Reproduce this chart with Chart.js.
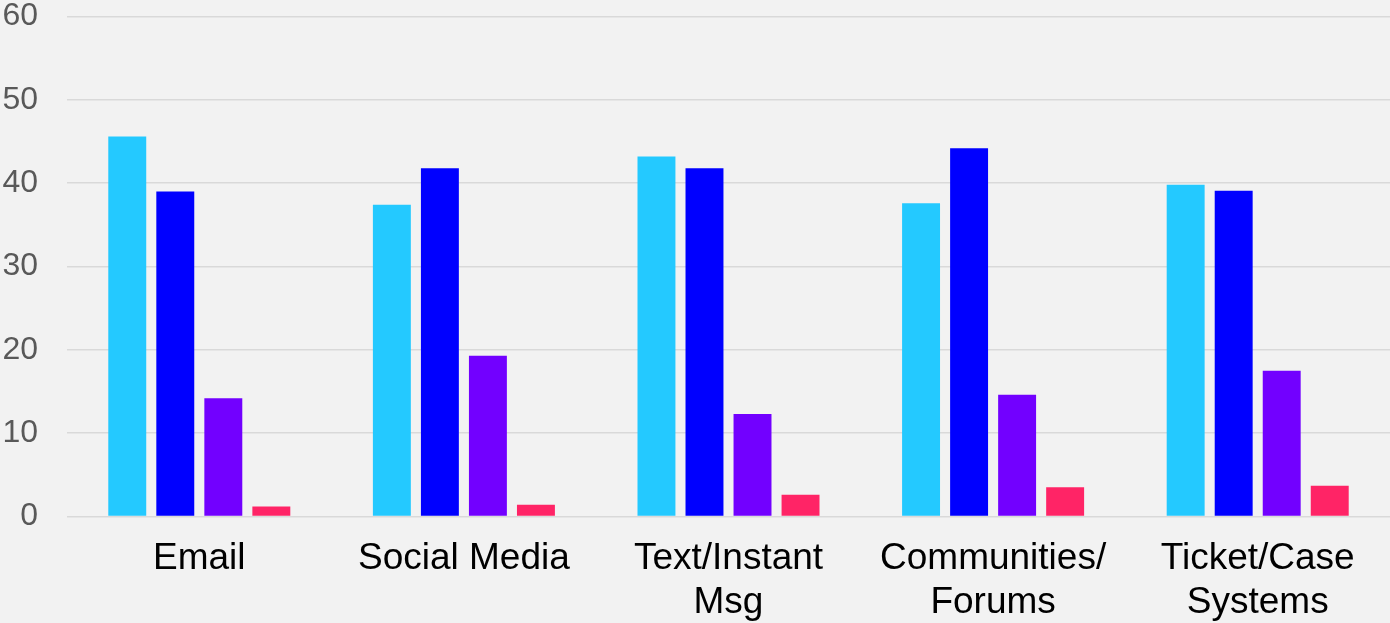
<!DOCTYPE html>
<html>
<head>
<meta charset="UTF-8">
<title>Channels</title>
<style>
  html, body { margin: 0; padding: 0; background: #f2f2f2; }
  #wrap { width: 1390px; height: 623px; }
</style>
</head>
<body>
<div id="wrap"><canvas id="chart" width="1390" height="623"></canvas></div>
<script src="https://cdn.jsdelivr.net/npm/chart.js"></script>
<script>
// categories (multi-line labels as arrays)
const categories = [
  'Email',
  'Social Media',
  ['Text/Instant', 'Msg'],
  ['Communities/', 'Forums'],
  ['Ticket/Case', 'Systems']
];

// series values
const series1 = [45.6, 37.4, 43.2, 37.6, 39.8];
const series2 = [39.0, 41.8, 41.8, 44.2, 39.1];
const series3 = [14.2, 19.3, 12.3, 14.6, 17.5];
const series4 = [1.2, 1.4, 2.6, 3.5, 3.7];

const yTicks = [0, 10, 20, 30, 40, 50, 60];

const colors = ['#24c9ff', '#0000ff', '#7200ff', '#ff2466'];

const bg = {
  id: 'bg',
  beforeDraw(chart) {
    const c = chart.ctx;
    c.save();
    c.fillStyle = '#f2f2f2';
    c.fillRect(0, 0, chart.width, chart.height);
    c.restore();
  }
};

const mk = (label, data, i) => ({
  label,
  data,
  backgroundColor: colors[i],
  borderWidth: 0,
  categoryPercentage: 0.726,
  barPercentage: 0.79
});

new Chart(document.getElementById('chart'), {
  type: 'bar',
  data: {
    labels: categories,
    datasets: [
      mk('Series 1', series1, 0),
      mk('Series 2', series2, 1),
      mk('Series 3', series3, 2),
      mk('Series 4', series4, 3)
    ]
  },
  options: {
    responsive: false,
    animation: false,
    layout: { padding: { top: 16.5, right: 0, bottom: 0, left: 0 } },
    plugins: {
      legend: { display: false },
      tooltip: { enabled: false }
    },
    scales: {
      x: {
        grid: { display: false, drawTicks: false },
        border: { display: false },
        ticks: {
          color: '#000000',
          font: { family: "'Liberation Sans', Arial, sans-serif", size: 37 },
          padding: 20,
          maxRotation: 0,
          autoSkip: false
        },
        afterFit(scale) {
          scale.height = 106.5;
          scale.paddingLeft = 0;
          scale.paddingRight = 0;
        }
      },
      y: {
        min: 0,
        max: 60,
        afterBuildTicks(scale) { scale.ticks = yTicks.map(v => ({ value: v })); },
        grid: { color: '#d9d9d9', lineWidth: 1.5, drawTicks: false },
        border: { display: false },
        ticks: {
          color: '#595959',
          font: { family: "'Liberation Sans', Arial, sans-serif", size: 32 },
          padding: 29
        },
        afterFit(scale) {
          scale.width = 67;
          scale.paddingTop = 0;
          scale.paddingBottom = 0;
        }
      }
    }
  },
  plugins: [bg]
});
</script>
</body>
</html>
